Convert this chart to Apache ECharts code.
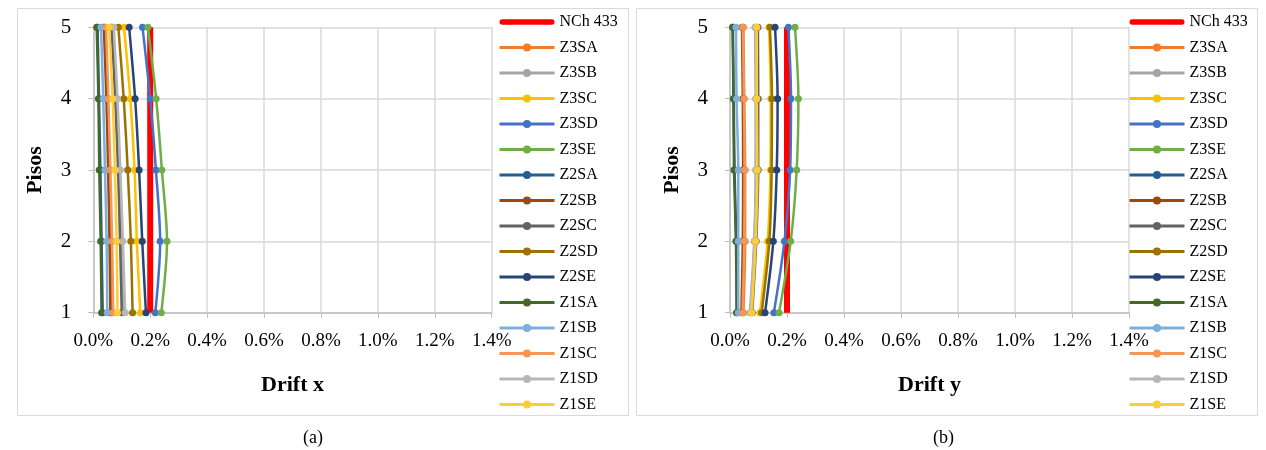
<!DOCTYPE html>
<html>
<head>
<meta charset="utf-8">
<script src="https://cdn.jsdelivr.net/npm/echarts@6/dist/echarts.min.js"></script>
<style>html,body{margin:0;padding:0;background:#fff}#c{width:1266px;height:450px}</style>
</head>
<body>
<div id="c"></div>
<script>
// Floors (Pisos)
const floors = [1, 2, 3, 4, 5];
const xTicks = ['0.0%','0.2%','0.4%','0.6%','0.8%','1.0%','1.2%','1.4%'];
const seriesNames = ['NCh 433','Z3SA','Z3SB','Z3SC','Z3SD','Z3SE','Z2SA','Z2SB','Z2SC','Z2SD','Z2SE','Z1SA','Z1SB','Z1SC','Z1SD','Z1SE'];
const seriesColors = ['#FF0000','#ED7D31','#A5A5A5','#FFC000','#4472C4','#70AD47','#255E91','#9E480E','#636363','#997300','#264478','#43682B','#7CAFDD','#F1975A','#B7B7B7','#FFCD33'];

// Drift x (%), floors 1..5
const dx_NCh433 = [0.20, 0.20, 0.20, 0.20, 0.20];
const dx_Z3SA = [0.065, 0.062, 0.057, 0.050, 0.040];
const dx_Z3SB = [0.105, 0.098, 0.090, 0.080, 0.066];
const dx_Z3SC = [0.165, 0.153, 0.145, 0.130, 0.108];
const dx_Z3SD = [0.218, 0.235, 0.220, 0.200, 0.173];
const dx_Z3SE = [0.239, 0.259, 0.241, 0.221, 0.192];
const dx_Z2SA = [0.033, 0.029, 0.025, 0.020, 0.015];
const dx_Z2SB = [0.060, 0.057, 0.052, 0.046, 0.037];
const dx_Z2SC = [0.100, 0.094, 0.087, 0.077, 0.064];
const dx_Z2SD = [0.138, 0.132, 0.121, 0.107, 0.088];
const dx_Z2SE = [0.185, 0.172, 0.161, 0.147, 0.126];
const dx_Z1SA = [0.029, 0.026, 0.021, 0.018, 0.012];
const dx_Z1SB = [0.049, 0.047, 0.041, 0.035, 0.027];
const dx_Z1SC = [0.070, 0.066, 0.060, 0.053, 0.045];
const dx_Z1SD = [0.112, 0.104, 0.095, 0.085, 0.072];
const dx_Z1SE = [0.085, 0.082, 0.076, 0.068, 0.056];

// Drift y (%), floors 1..5
const dy_NCh433 = [0.20, 0.20, 0.20, 0.20, 0.20];
const dy_Z3SA = [0.047, 0.053, 0.053, 0.050, 0.047];
const dy_Z3SB = [0.070, 0.085, 0.090, 0.090, 0.088];
const dy_Z3SC = [0.105, 0.132, 0.142, 0.143, 0.137];
const dy_Z3SD = [0.154, 0.191, 0.211, 0.214, 0.205];
const dy_Z3SE = [0.172, 0.213, 0.234, 0.240, 0.228];
const dy_Z2SA = [0.025, 0.022, 0.016, 0.013, 0.010];
const dy_Z2SB = [0.040, 0.045, 0.046, 0.045, 0.042];
const dy_Z2SC = [0.078, 0.092, 0.099, 0.099, 0.098];
const dy_Z2SD = [0.111, 0.138, 0.146, 0.147, 0.140];
const dy_Z2SE = [0.123, 0.152, 0.164, 0.167, 0.158];
const dy_Z1SA = [0.023, 0.021, 0.014, 0.012, 0.009];
const dy_Z1SB = [0.029, 0.029, 0.029, 0.023, 0.021];
const dy_Z1SC = [0.044, 0.050, 0.051, 0.049, 0.045];
const dy_Z1SD = [0.072, 0.086, 0.092, 0.092, 0.090];
const dy_Z1SE = [0.076, 0.090, 0.096, 0.094, 0.094];

const driftXList = [dx_NCh433,dx_Z3SA,dx_Z3SB,dx_Z3SC,dx_Z3SD,dx_Z3SE,dx_Z2SA,dx_Z2SB,dx_Z2SC,dx_Z2SD,dx_Z2SE,dx_Z1SA,dx_Z1SB,dx_Z1SC,dx_Z1SD,dx_Z1SE];
const driftYList = [dy_NCh433,dy_Z3SA,dy_Z3SB,dy_Z3SC,dy_Z3SD,dy_Z3SE,dy_Z2SA,dy_Z2SB,dy_Z2SC,dy_Z2SD,dy_Z2SE,dy_Z1SA,dy_Z1SB,dy_Z1SC,dy_Z1SD,dy_Z1SE];

const FONT = '"Liberation Serif", "Times New Roman", serif';

function makeSeries(list, gridIdx) {
  return list.map((vals, i) => {
    const isLimit = i === 0;
    return {
      name: seriesNames[i],
      type: 'line',
      xAxisIndex: gridIdx,
      yAxisIndex: gridIdx,
      data: vals.map((v, k) => [v, floors[k]]),
      smooth: isLimit ? false : 0.3,
      symbol: isLimit ? 'none' : 'circle',
      symbolSize: 7,
      color: seriesColors[i],
      lineStyle: { width: isLimit ? 6 : 2.5, color: seriesColors[i] },
      itemStyle: { color: seriesColors[i] },
      silent: true,
      animation: false
    };
  });
}

function xAxis(gridIdx, name) {
  return {
    type: 'value', gridIndex: gridIdx, min: 0, max: 1.4, interval: 0.2,
    name: name, nameLocation: 'middle', nameGap: 62,
    nameTextStyle: { fontFamily: FONT, fontSize: 22, fontWeight: 'bold', color: '#000' },
    axisLine: { show: true, lineStyle: { color: '#BFBFBF', width: 1.5 } },
    axisTick: { show: true, inside: false, length: 5, lineStyle: { color: '#BFBFBF' } },
    splitLine: { show: true, lineStyle: { color: '#D9D9D9', width: 1.5 } },
    axisLabel: { fontFamily: FONT, fontSize: 19, color: '#000', margin: 19,
      formatter: v => xTicks[Math.round(v / 0.2)] }
  };
}
function yAxis(gridIdx) {
  return {
    type: 'value', gridIndex: gridIdx, min: 1, max: 5, interval: 1,
    name: 'Pisos', nameLocation: 'middle', nameGap: 47, nameRotate: 90,
    nameTextStyle: { fontFamily: FONT, fontSize: 22, fontWeight: 'bold', color: '#000' },
    axisLine: { show: true, lineStyle: { color: '#BFBFBF', width: 1.5 } },
    axisTick: { show: true, inside: false, length: 5, lineStyle: { color: '#BFBFBF' } },
    splitLine: { show: true, lineStyle: { color: '#D9D9D9', width: 1.5 } },
    axisLabel: { fontFamily: FONT, fontSize: 21, color: '#000', margin: 22 }
  };
}
const limitIcon = 'path://M0,0 L0,0 M1,2 L54,2 A3,3 0 0 1 54,8 L1,8 A3,3 0 0 1 1,2 Z M55,10 L55,10';
function legend(left) {
  return {
    data: seriesNames.map((n, i) => i === 0 ? { name: n, icon: limitIcon, itemStyle: { color: seriesColors[0] } } : n),
    orient: 'vertical', left: left, top: 14, padding: 0,
    itemWidth: 55, itemHeight: 10, itemGap: 9.5,
    lineStyle: { width: 3 },
    textStyle: { fontFamily: FONT, fontSize: 16, lineHeight: 16, color: '#000' },
    selectedMode: false
  };
}

const chart = echarts.init(document.getElementById('c'));
chart.setOption({
  backgroundColor: '#fff',
  animation: false,
  grid: [
    { left: 93.3, top: 27.3, width: 398.4, height: 285.4 },
    { left: 730, top: 27.3, width: 399, height: 285.4 }
  ],
  xAxis: [xAxis(0, 'Drift x'), xAxis(1, 'Drift y')],
  yAxis: [yAxis(0), yAxis(1)],
  legend: [legend(498), legend(1128)],
  series: makeSeries(driftXList, 0).concat(makeSeries(driftYList, 1)),
  graphic: [
    { type: 'rect', shape: { x: 17.5, y: 8.5, width: 611, height: 407 }, style: { fill: 'none', stroke: '#D9D9D9', lineWidth: 1 }, silent: true, z: -10 },
    { type: 'rect', shape: { x: 636.5, y: 8.5, width: 621, height: 407 }, style: { fill: 'none', stroke: '#D9D9D9', lineWidth: 1 }, silent: true, z: -10 },
    { type: 'text', left: 303, top: 429, style: { text: '(a)', fontFamily: FONT, fontSize: 18, fill: '#000' } },
    { type: 'text', left: 933, top: 429, style: { text: '(b)', fontFamily: FONT, fontSize: 18, fill: '#000' } }
  ]
});
</script>
</body>
</html>
